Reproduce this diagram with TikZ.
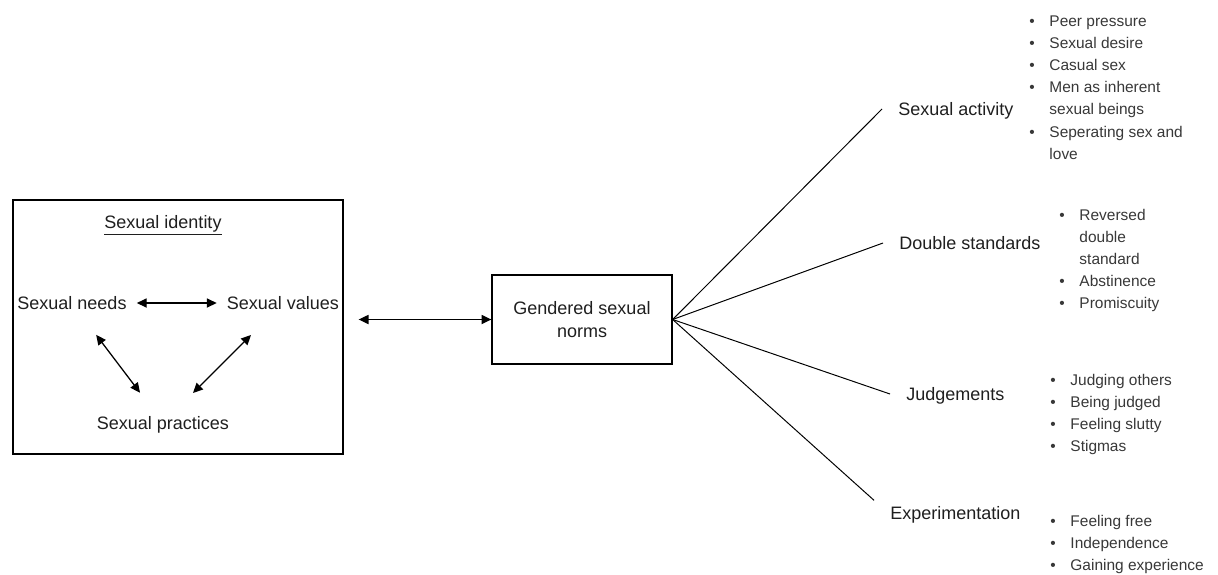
\documentclass[tikz,border=0pt]{standalone}
\usepackage{fontspec}
\setmainfont{Liberation Sans}
\usepackage{tikz}
\usetikzlibrary{arrows.meta, positioning}

\tikzset{
  plain/.style={font=\fontsize{12.8}{16.3}\selectfont, text=black!88, text height=10pt, text depth=1pt},
  topic/.style={plain, inner xsep=0.4cm, anchor=west},
  points/.style={font=\fontsize{11}{15.8}\selectfont, text=black!78, inner sep=0pt, anchor=base west},
  twoway/.style={{Triangle[length=7pt,width=6.5pt]}-{Triangle[length=7pt,width=6.5pt]}, line width=0.9pt},
  spoke/.style={line width=0.7pt}
}
\newcommand{\pointlist}[1]{\begin{tabular}[t]{@{}l@{\hspace{10.5pt}}l@{}}#1\end{tabular}}

\begin{document}
\begin{tikzpicture}[x=0.025cm, y=-0.025cm]
\useasboundingbox (0,0) rectangle (1218,574);

% the sexual identity box
\node[draw, line width=0.9pt, minimum width=8.25cm, minimum height=6.35cm] (idbox) at (178,327) {};
\node[plain] (idtitle) at (163,222) {\underline{Sexual identity}};
\node[plain, inner xsep=0.25cm] (needs) at (72,303) {Sexual needs};
\node[plain, inner xsep=0.25cm] (values) at (283,303) {Sexual values};
\node[plain] (practices) at (163,423) {Sexual practices};

\draw[twoway] (needs) -- (values);
\draw[twoway, shorten <=1cm, shorten >=0.95cm] (needs.center) -- (practices.center);
\draw[twoway, shorten <=1.13cm, shorten >=1.06cm] (values.center) -- (practices.center);

% norms in the middle
\node[draw, line width=0.9pt, minimum width=4.5cm, minimum height=2.225cm, align=center,
  font=\fontsize{12.8}{16.3}\selectfont, text=black!88] (norms) at (582,319.5) {Gendered sexual\\norms};
\draw[twoway, shorten <=0.375cm] (idbox.east |- norms.west) -- (norms.west);

% the four topics
\node[topic] (activity) at (882,109) {Sexual activity};
\node[topic] (standards) at (883,243) {Double standards};
\node[topic] (judge) at (890,394) {Judgements};
\node[topic] (exper) at (874,513) {Experimentation};

\foreach \t in {activity, standards, judge}
  \draw[spoke] (norms.east) -- (\t.west);
\draw[spoke] (norms.east) -- (exper.north west);% this one ends above its label

% bullet points next to each topic
\node[points] (activitylist) at (1029,26) {\pointlist{
  \textbullet & Peer pressure\\
  \textbullet & Sexual desire\\
  \textbullet & Casual sex\\
  \textbullet & Men as inherent\\
  & sexual beings\\
  \textbullet & Seperating sex and\\
  & love}};
\node[points] (standardslist) at (1059,220) {\pointlist{
  \textbullet & Reversed\\
  & double\\
  & standard\\
  \textbullet & Abstinence\\
  \textbullet & Promiscuity}};
\node[points] (judgelist) at (1050,385) {\pointlist{
  \textbullet & Judging others\\
  \textbullet & Being judged\\
  \textbullet & Feeling slutty\\
  \textbullet & Stigmas}};
\node[points] (experlist) at (1050,526) {\pointlist{
  \textbullet & Feeling free\\
  \textbullet & Independence\\
  \textbullet & Gaining experience}};

\end{tikzpicture}
\end{document}
